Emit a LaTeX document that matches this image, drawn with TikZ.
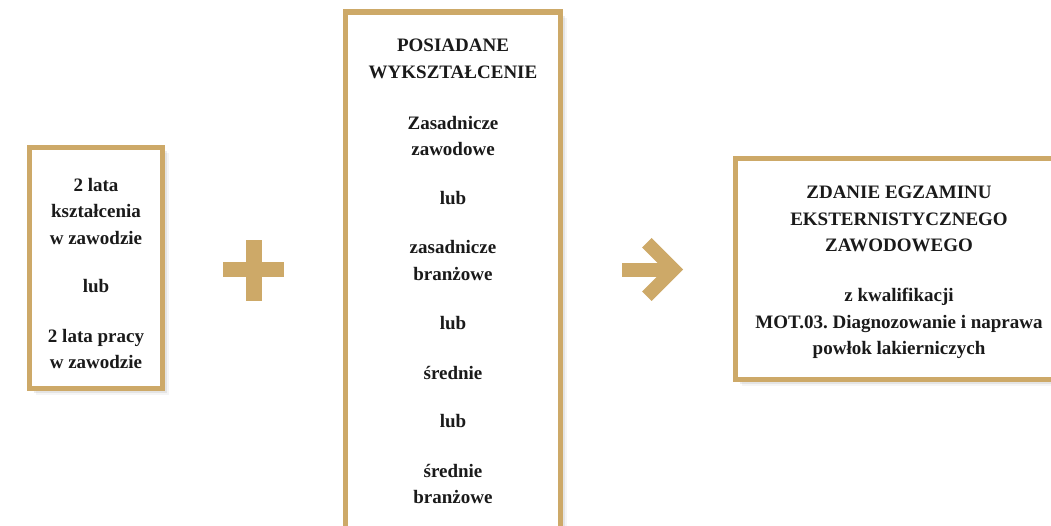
\documentclass[tikz,border=0pt]{standalone}
\usepackage{fontspec}
\setmainfont{Liberation Serif}
\usetikzlibrary{shadows}
\definecolor{gold}{HTML}{CDA968}
\definecolor{ink}{HTML}{1A1A1A}
\frenchspacing
\tikzset{
  box/.style={draw=gold, line width=5.5pt, fill=white,
    general shadow={shadow xshift=2pt, shadow yshift=-2pt, fill=black, opacity=.10},
    general shadow={shadow xshift=4pt, shadow yshift=-4pt, fill=black, opacity=.07},
    general shadow={shadow xshift=6pt, shadow yshift=-6pt, fill=black, opacity=.04}},
  txt/.style={align=center, text=ink, inner sep=0pt,
    font=\bfseries\fontsize{19}{26.5}\selectfont},
  sign/.style={fill=gold, draw=none}
}
\begin{document}
\begin{tikzpicture}[x=1pt, y=-1pt]
\useasboundingbox (0,0) rectangle (1051,526);
\clip (0,0) rectangle (1051,526);
% boxes
\path[box] (29.5,147.5) rectangle (162.5,388.5);
\path[box] (345.5,12) rectangle (560.5,560);
\path[box] (735.5,158.5) rectangle (1070,379.5);
% left box text
\node[txt] (l1) at (96,211.5) {2 lata\\kształcenia\\w zawodzie};
\node[txt] (l2) at (96,286) {lub};
\node[txt] (l3) at (96,349) {2 lata pracy\\w zawodzie};
% middle box text
\node[txt] (m1) at (453,59) {POSIADANE\\WYKSZTAŁCENIE};
\node[txt] (m2) at (453,136) {Zasadnicze\\zawodowe};
\node[txt] (m3) at (453,198) {lub};
\node[txt] (m4) at (453,260.5) {zasadnicze\\branżowe};
\node[txt] (m5) at (453,323) {lub};
\node[txt] (m6) at (453,373) {średnie};
\node[txt] (m7) at (453,421) {lub};
\node[txt] (m8) at (453,484) {średnie\\branżowe};
% right box text
\node[txt] (r1) at (899,219) {ZDANIE EGZAMINU\\EKSTERNISTYCZNEGO\\ZAWODOWEGO};
\node[txt] (r2) at (899,323.5) {z kwalifikacji\\MOT.03. Diagnozowanie i naprawa\\powłok lakierniczych};
% plus sign
\fill[sign] (246,240) rectangle (262.3,301);
\fill[sign] (223.3,261.7) rectangle (284,276.7);
% arrow
\fill[sign] (622,263) rectangle (668,277);
\fill[sign] (651.7,238) -- (683,269.5) -- (651.7,301) -- (642,291.5)
  -- (664,269.5) -- (642,247.5) -- cycle;
\end{tikzpicture}
\end{document}
